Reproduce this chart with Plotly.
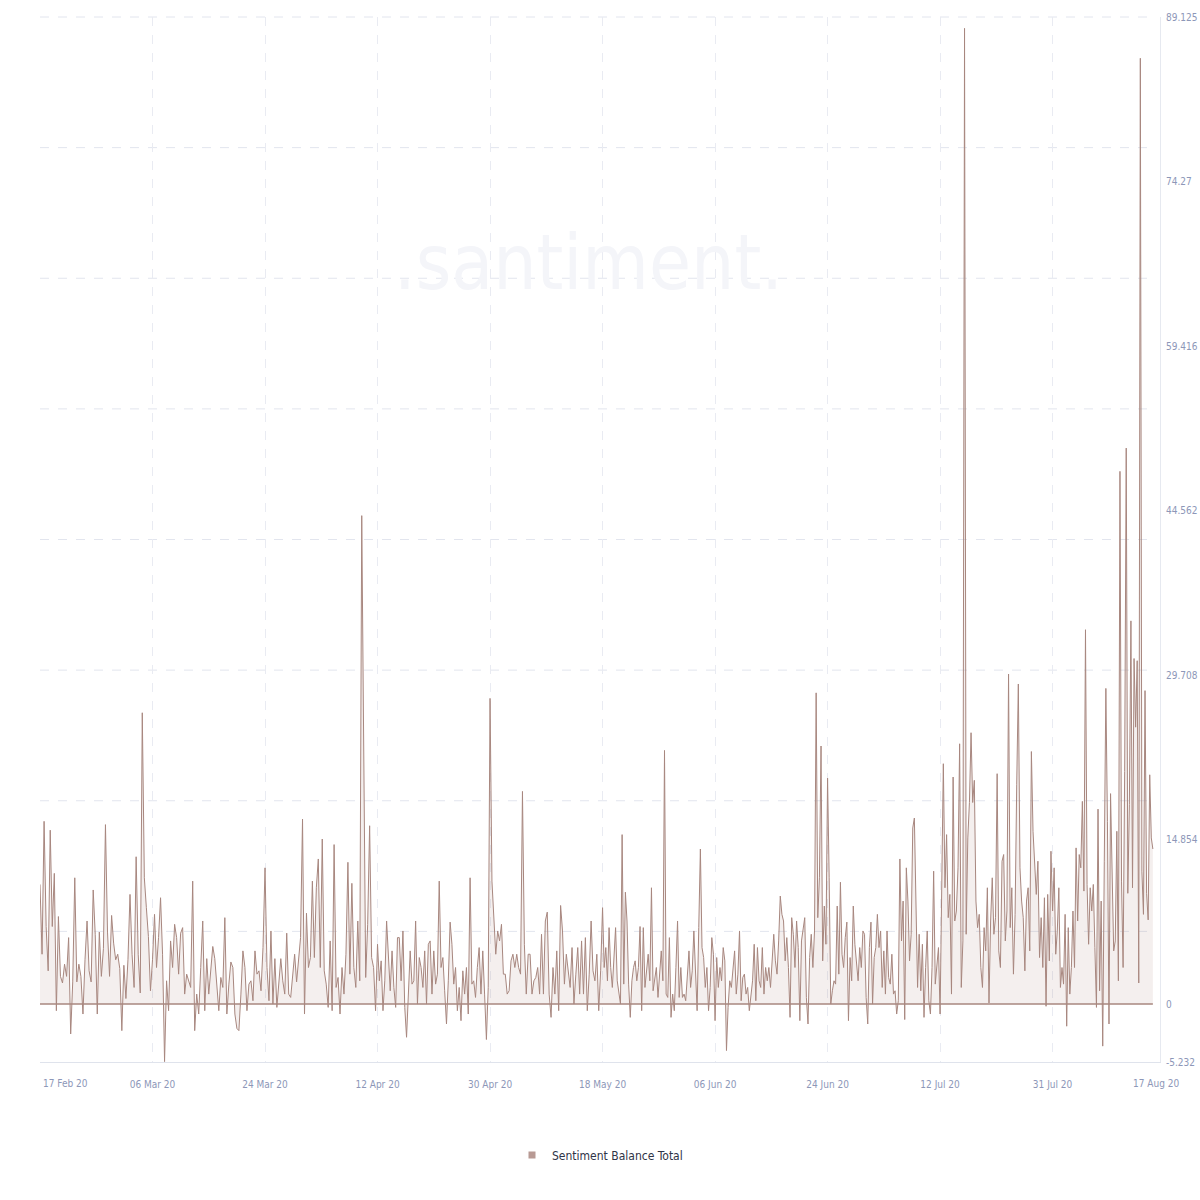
import pandas as pd
import plotly.graph_objects as go

# ---------------- data (Sentiment Balance Total, 8-hourly-ish) ----------------
start = pd.Timestamp("2020-02-17 00:00")
end = pd.Timestamp("2020-08-17 00:00")
tick_step_days = 18.4

tick_labels = ["17 Feb 20", "06 Mar 20", "24 Mar 20", "12 Apr 20", "30 Apr 20",
               "18 May 20", "06 Jun 20", "24 Jun 20", "12 Jul 20", "31 Jul 20", "17 Aug 20"]
y_tick_values = [-5.232, 0, 14.854, 29.708, 44.562, 59.416, 74.27, 89.125]
y_tick_text = ["-5.232", "0", "14.854", "29.708", "44.562", "59.416", "74.27", "89.125"]

seg_feb17_mar06 = [10.8, 4.5, 16.5, 7, 3, 15.7, 7, 11.8, -0.6, 7.9,
                   2.5, 1.9, 3.6, 2.5, 6, -2.7, 2, 11.4, 2, 3.6,
                   2.5, -0.9, 4, 7.5, 3, 2, 10.3, 6.3, -0.9, 6.5,
                   2.5, 5, 16.2, 6.5, 2.5, 8, 5.5, 4, 4.5, 3.2,
                   -2.4, 3.5, 0.5, 4, 9.9, 4.5, 1.5, 13.3, 4.5, 1,
                   26.3, 11.4, 8.7, 6.1, 1.2]
seg_mar06_mar24 = [4.0, 8.1, 3.3, 6.0, 9.6, 4.5, -5.2, 2.1, -0.6, 5.7,
                   3.3, 7.2, 6.0, 2.7, 6.4, 6.9, 0.9, 2.7, 2.1, 1.5,
                   11.1, -2.4, 0.9, -0.9, 3.3, 7.5, -0.6, 4.1, 0.9, 3.3,
                   5.2, 4.1, 2.1, -0.6, 2.4, 1.5, 7.8, -0.9, 1.8, 3.8,
                   3.3, -0.9, -2.2, -2.4, 0.9, 4.8, 3.3, -0.6, 1.8, 2.1,
                   0.3, 4.8, 2.7, 3.0, 1.2, 5.1]
seg_mar24_apr12 = [12.3, 3.3, 0.3, 6.6, 0, 4.1, -0.3, 1.8, 4.1, 2.1,
                   0.9, 6.4, 0.9, 0.6, 3.0, 4.5, 2.0, 4.0, 6.0, 16.7,
                   -0.9, 8.2, 3.3, 4.2, 11.1, 4.2, 10.5, 13.1, 3.3, 14.9,
                   3.0, 1.8, -0.3, 5.7, -0.6, 14.4, 1.5, 2.4, -0.9, 3.3,
                   0.9, 4.5, 12.8, 2.7, 10.9, 3.3, 1.5, 7.5, 2.1, 44.1,
                   20, 2.4, 7.2, 16.1, 4.2, 3.3, -0.6]
seg_apr12_apr30 = [5.4, 2.1, 3.9, -0.6, 2.1, 7.5, 3.9, 1.2, 4.8, 1.5,
                   -0.3, 6.0, 6.0, 2.1, 6.6, -0.3, -3.0, 0.9, 4.8, 1.8,
                   2.1, 7.5, 0, 4.2, 3.3, 1.5, 4.8, 0, 5.4, 5.7,
                   0.9, 4.8, 1.8, 2.7, 11.1, 3.3, 4.2, 1.2, -1.8, 2.1,
                   7.4, 5.4, 1.8, 3.3, -0.6, 1.5, -1.5, 3.0, 0.9, 3.3,
                   -0.9, 11.4, 1.8, 2.1, 0.6, 3.3, 5.1, 0.9, 4.8, 0.9,
                   -3.2, 1.5]
seg_apr30_may18 = [27.6, 11.1, 7.4, 4.5, 6.6, 5.7, 7.2, 2.7, 2.7, 0.9,
                   1.2, 3.9, 4.5, 3.3, 4.5, 3.3, 2.7, 19.2, 5.4, 0.9,
                   4.5, 4.5, 0.9, 2.1, 2.4, 3.3, 0.9, 6.3, 0.9, 7.5,
                   8.3, 0.9, -1.2, 3.3, 0.9, 4.8, -0.6, 8.9, 6.6, 1.8,
                   4.5, 2.7, 1.5, 5.1, 0, 2.7, 5.1, 0.9, 5.7, 0.9,
                   6.0, -0.6, 2.7, 7.5, 3.0, 2.1, 4.5, -0.6, 3.0]
seg_may18_jun06 = [8.7, 3.3, 5.1, 2.1, 6.9, 3.3, 1.5, 3.9, 6.9, 2.1,
                   0.9, 0, 15.3, 1.8, 10.1, 7.5, 1.8, -1.2, 2.1, 3.3,
                   3.9, 2.1, 3.3, 7.0, -0.6, 6.9, 1.5, 3.3, 4.5, 2.1,
                   10.5, 1.2, 2.1, 3.3, 0.6, 2.7, 4.8, 2.1, 22.9, 0.9,
                   0.6, 6.0, -1.2, 0.9, -0.6, 3.3, 7.5, 0.6, 3.3, 0.6,
                   0.9, 0.3, 2.4, 4.8, 1.5, 3.0, 6.6, 3.3, -0.6, 6.9,
                   14.0, 5.1, 4.2, 1.5, 3.3, -0.6, 1.5, 6.0, 4.5]
seg_jun06_jun24 = [-1.5, 4.2, 1.5, 3.3, 2.1, 5.1, 3.9, -4.2, -0.3, 2.1,
                   1.5, 3.3, 4.8, 0.9, 2.7, 6.6, 0.3, 2.4, 2.7, 0.9,
                   1.5, -0.6, 0.9, 2.1, 5.4, 0.3, 5.1, 2.1, 1.5, 5.1,
                   0.9, 3.3, 2.1, 3.3, 1.5, 4.2, 6.3, 3.9, 2.7, 5.7,
                   9.75, 8.1, 7.5, 3.9, 6.0, 3.3, -1.2, 7.8, 6.3, 3.3,
                   7.5, 5.1, -1.5, 5.7, 6.6, 7.8, 0.6, -1.8, 4.2, 6.3,
                   3.3, 6.6, 28.1, 7.8, 11.4, 23.3, 3.9, 8.85, 5.4]
seg_jun24_jul12 = [20.4, 11.4, 0, 1.2, 2.1, 1.8, 8.85, 2.7, 11.0, 4.5,
                   3.3, 6.0, 7.4, -1.5, 4.2, 2.1, 8.85, 5.4, 3.3, 2.1,
                   5.1, 3.3, 6.6, 6.3, 0.6, -1.8, 5.1, 7.4, 0, 4.2,
                   5.1, 8.1, 5.1, 6.6, 1.5, 4.8, 0.9, 6.6, 2.4, 1.8,
                   4.5, 0.9, 1.2, -0.9, 0.3, 13.1, 5.7, 9.3, -1.4, 12.3,
                   9.3, 3.9, 6.3, 15.9, 16.8, 9.0, 1.5, 6.3, 1.2, 5.4,
                   -1.2, 3.3, 6.6, 0.3, -0.9, 3.3, 12.0, 1.8, 3.3, 5.1]
seg_jul12_jul31 = [-0.9, 13.2, 21.7, 10.5, 15.3, 7.8, 9.9, 0.9, 20.5, 7.5,
                   8.4, 12.3, 23.5, 1.5, 5.7, 88.1, 6.3, 15.0, 18.2, 24.5,
                   18.2, 20.2, 9.3, 6.9, 8.1, 3.3, 1.5, 6.9, 4.8, 10.5,
                   0.1, 7.5, 11.4, 6.3, 7.8, 20.8, 4.8, 3.3, 12.9, 13.5,
                   5.7, 8.4, 29.8, 6.9, 10.5, 2.7, 8.1, 19.8, 28.9, 12.3,
                   9.3, 7.8, 3.0, 9.3, 10.5, 4.8, 22.8, 15.6, 12.9, 9.9,
                   12.9, 4.2, 7.8, 3.3, 9.6, -0.2, 9.9, 3.9, 13.8]
seg_jul31_aug17 = [8.4, 12.3, 4.5, 6.6, 10.5, 1.5, 3.3, 1.8, 8.1, -2.0,
                   6.9, 0.9, 3.3, 8.4, 3.3, 14.1, 7.5, 13.5, 12.3, 18.3,
                   10.2, 33.8, 10.8, 5.4, 10.5, 8.4, 10.8, 5.1, -0.3, 17.6,
                   1.2, 9.3, -3.8, 12.9, 28.5, 16.5, -1.8, 19.0, 9.9, 4.8,
                   5.7, 15.6, 2.1, 48.1, 11.1, 3.3, 21.0, 50.2, 10.0, 18.0,
                   34.6, 10.5, 31.2, 25.0, 31.0, 1.9, 85.4, 12.0, 8.1, 28.3,
                   10.0, 7.6, 20.7, 15.0, 14.0]

segments = [seg_feb17_mar06, seg_mar06_mar24, seg_mar24_apr12, seg_apr12_apr30,
            seg_apr30_may18, seg_may18_jun06, seg_jun06_jun24, seg_jun24_jul12,
            seg_jul12_jul31, seg_jul31_aug17]

# ---------------- build x / y from the segments ----------------
tick_dates = [start + pd.Timedelta(days=tick_step_days * k) for k in range(10)]
bounds = tick_dates + [end]
xs, ys = [], []
for k, seg in enumerate(segments):
    if k < len(segments) - 1:
        d = pd.date_range(bounds[k], bounds[k + 1], periods=len(seg) + 1)[:-1]
    else:
        d = pd.date_range(bounds[k], bounds[k + 1], periods=len(seg))
    xs.extend(d)
    ys.extend(seg)

LINE = "#a8877f"
LABEL = "#8d97b8"
FONT = "Liberation Sans Narrow, DejaVu Sans Condensed, Roboto, sans-serif"

fig = go.Figure()
fig.add_trace(go.Scatter(
    x=xs, y=ys, mode="lines",
    line=dict(color=LINE, width=1),
    fill="tozeroy", fillcolor="rgba(168,135,127,0.13)",
    showlegend=False, hoverinfo="x+y",
))
# legend swatch (square) for the series
fig.add_trace(go.Scatter(
    x=[None], y=[None], mode="markers", name="Sentiment Balance Total",
    marker=dict(symbol="square", size=7, color="#b89a94"),
    showlegend=True,
))

shapes = []
# zero line along the data span
shapes.append(dict(type="line", xref="x", yref="y", x0=xs[0], x1=xs[-1], y0=0, y1=0,
                   line=dict(color=LINE, width=1.5), layer="above"))
# horizontal dashed grid dividing the value range into 8 bands
for k in range(1, 9):
    shapes.append(dict(type="line", xref="paper", yref="paper", x0=0, x1=0.995,
                       y0=k / 8, y1=k / 8,
                       line=dict(color="#e2e5ee", width=1, dash="dash"), layer="below"))

annotations = [
    dict(text=".santiment.", x=0.49, y=0.765, xref="paper", yref="paper",
         xanchor="center", yanchor="middle",
         showarrow=False, font=dict(family=FONT, size=76, color="#f4f5f9")),
    dict(text=tick_labels[0], x=xs[0], y=-0.0205, xref="x", yref="paper",
         xanchor="left", yanchor="middle", xshift=1, showarrow=False,
         font=dict(family=FONT, size=10, color=LABEL)),
    dict(text=tick_labels[-1], x=xs[-1], y=-0.0205, xref="x", yref="paper",
         xanchor="center", yanchor="middle", xshift=3, showarrow=False,
         font=dict(family=FONT, size=10, color=LABEL)),
]

fig.update_layout(
    width=1200, height=1200,
    margin=dict(l=40, r=40, t=17, b=138, autoexpand=False),
    paper_bgcolor="white", plot_bgcolor="white",
    font=dict(family=FONT, color=LABEL, size=10),
    shapes=shapes, annotations=annotations,
    legend=dict(orientation="h", x=0.5, xanchor="center", y=-0.089, yanchor="middle",
                font=dict(family=FONT, size=12, color="#2f3447"),
                itemwidth=30),
    hovermode="x",
)
fig.update_xaxes(
    type="date", automargin=False,
    range=[start, end + pd.Timedelta(hours=28)],
    tickmode="array", tickvals=tick_dates, ticktext=[""] + tick_labels[1:10],
    showgrid=True, gridcolor="#e9ebf2", griddash="dash", gridwidth=1,
    showline=True, linecolor="#dfe3ec", linewidth=1,
    ticks="", ticklabelstandoff=13,
    tickfont=dict(family=FONT, size=10, color=LABEL),
    zeroline=False,
)
fig.update_yaxes(
    range=[-5.232, 89.125], side="right", automargin=False,
    tickmode="array", tickvals=y_tick_values, ticktext=y_tick_text,
    showgrid=False, zeroline=False,
    showline=True, linecolor="#e6e9f0", linewidth=1,
    ticks="", ticklabelstandoff=3,
    tickfont=dict(family=FONT, size=10, color=LABEL),
)

fig.write_html("out.html")
